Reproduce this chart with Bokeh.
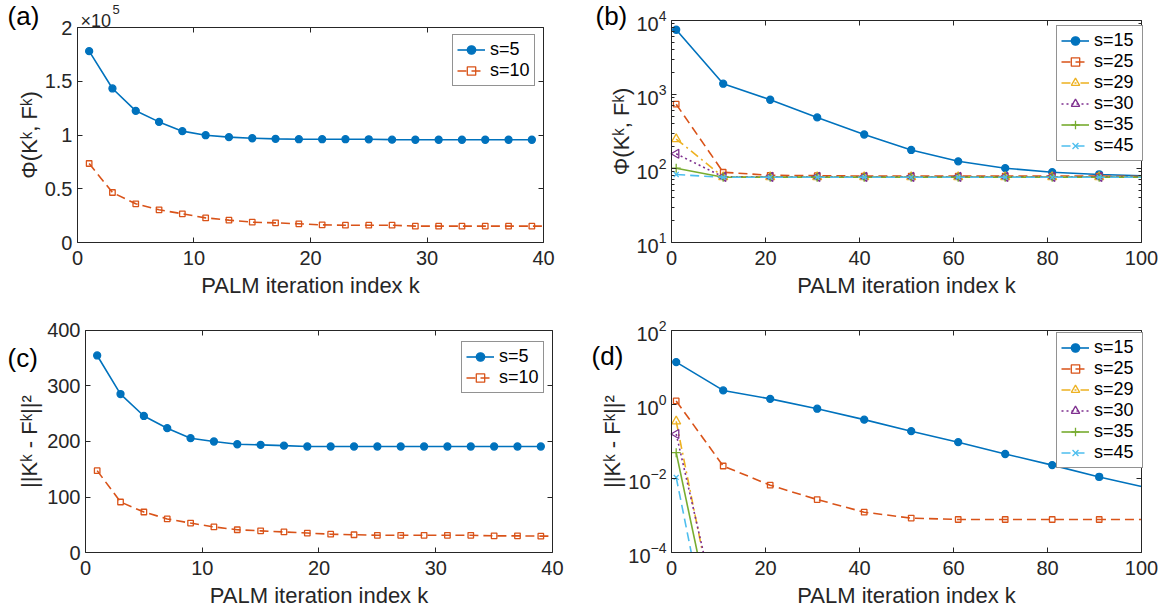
import math
from bokeh.plotting import figure
from bokeh.models import (Range1d, LinearAxis, LogAxis, FixedTicker, Legend,
                          LegendItem, Label, BasicTickFormatter)
from bokeh.layouts import column, row
from bokeh.embed import file_html
from bokeh.resources import INLINE

FONT = "Liberation Sans"
INK = "#262626"

# ---------------- data ----------------
# panels (a) and (c): iterations 1..39 (odd), orange series runs to 40
k_ac = [1, 3, 5, 7, 9, 11, 13, 15, 17, 19, 21, 23, 25, 27, 29, 31, 33, 35, 37, 39]
k_ac_end = [40]

# (a) objective Phi(K^k, F^k), in units of 1e5
phi_s5 = [1.78, 1.433, 1.225, 1.122, 1.036, 0.998, 0.980, 0.970, 0.964, 0.961,
          0.961, 0.961, 0.960, 0.957, 0.956, 0.956, 0.956, 0.956, 0.956, 0.956]
phi_s10 = [0.735, 0.465, 0.360, 0.304, 0.267, 0.229, 0.208, 0.189, 0.183, 0.174,
           0.164, 0.161, 0.161, 0.161, 0.152, 0.152, 0.152, 0.152, 0.152, 0.152]
phi_s10_end = [0.152]

# (c) ||K^k - F^k||^2
dist_s5 = [355, 285.5, 246, 224, 206, 200, 195, 194, 192.5, 191,
           191, 191, 191, 191, 191, 191, 191, 191, 191, 191]
dist_s10 = [147.5, 91, 73, 60.5, 53, 46, 41, 39, 37, 35,
            33, 32, 31, 31, 31, 31, 31, 30, 30, 29.5]
dist_s10_end = [29.5]

# panels (b) and (d): iterations 1, 11, ..., 91 and the final iterate 100
k_bd = [1, 11, 21, 31, 41, 51, 61, 71, 81, 91, 100]

phi_b = {
    "s=15": [7500, 1400, 850, 490, 288, 178, 125, 101, 89, 83, 80],
    "s=25": [740, 89, 81, 80, 79, 79, 79, 79, 79, 79, 78],
    "s=29": [250, 77, 77, 77, 77, 77, 77, 77, 77, 77, 77],
    "s=30": [158, 77, 77, 77, 77, 77, 77, 77, 77, 77, 77],
    "s=35": [101, 76, 76, 76, 76, 76, 76, 76, 76, 76, 76],
    "s=45": [83, 76, 76, 76, 76, 76, 76, 76, 76, 76, 76],
}

k_d_fast = [1, 11]
dist_d = {
    "s=15": [14, 2.4, 1.42, 0.77, 0.39, 0.19, 0.096, 0.046, 0.023, 0.011, 0.0061],
    "s=25": [1.25, 0.0218, 0.0066, 0.0027, 0.00123, 0.00085, 0.00078, 0.00078,
             0.00078, 0.00078, 0.00078],
    "s=29": [0.35, 1.7e-7],
    "s=30": [0.16, 4.7e-7],
    "s=35": [0.05, 5e-8],
    "s=45": [0.0107, 5e-9],
}

X_LABEL = "PALM iteration index k"
PHI_LABEL = "Φ(Kᵏ, Fᵏ)"
DIST_LABEL = "||Kᵏ - Fᵏ||²"

# ---------------- styles ----------------
STYLE = {
    "s=5":  dict(color="#0072BD", dash="solid", marker="circle", size=7, fill=True, angle=0),
    "s=10": dict(color="#D95319", dash="9 5", marker="square", size=5.5, fill=False, angle=0),
    "s=15": dict(color="#0072BD", dash="solid", marker="circle", size=7, fill=True, angle=0),
    "s=25": dict(color="#D95319", dash="9 5", marker="square", size=5.5, fill=False, angle=0),
    "s=29": dict(color="#EDB120", dash="9 4 2 4", marker="triangle", size=9, fill=False, angle=0),
    "s=30": dict(color="#7E2F8E", dash="2 3", marker="triangle", size=9, fill=False,
                 angle=math.pi / 2),
    "s=35": dict(color="#77AC30", dash="solid", marker="cross", size=9, fill=False, angle=0),
    "s=45": dict(color="#4DBEEE", dash="9 5", marker="x", size=7, fill=False, angle=0),
}


def style_axis(ax, show_labels, horizontal):
    ax.axis_line_color = INK
    ax.axis_line_width = 1
    ax.major_tick_in = 5
    ax.major_tick_out = 0
    ax.minor_tick_in = 3
    ax.minor_tick_out = 0
    ax.major_tick_line_color = INK
    ax.minor_tick_line_color = INK
    ax.major_label_text_font = FONT
    ax.major_label_text_font_size = "20px"
    ax.major_label_text_color = INK
    ax.major_label_standoff = 8 if horizontal else 5
    if not show_labels:
        # mirror axis: ticks only
        ax.major_label_text_font_size = "1px"
        ax.major_label_text_color = None
        ax.major_label_standoff = 0


def make_panel(width, height, x_range, y_range, box, log_y,
               xticks, yticks, yminor, yoverrides=None):
    """The data frame fills the whole canvas; the four box axes are pinned to
    the data limits so that tags and titles can sit in the margins."""
    x0, x1, y0, y1 = box
    p = figure(width=width, height=height, output_backend="svg", toolbar_location=None,
               x_range=Range1d(*x_range), y_range=Range1d(*y_range),
               y_axis_type="log" if log_y else "linear",
               x_axis_location=None, y_axis_location=None,
               min_border_left=0, min_border_right=0,
               min_border_top=0, min_border_bottom=0)
    p.outline_line_color = None
    p.background_fill_color = "white"
    p.border_fill_color = "white"
    p.grid.visible = False
    AxY = LogAxis if log_y else LinearAxis
    xt = FixedTicker(ticks=xticks, minor_ticks=[])
    yt = FixedTicker(ticks=yticks, minor_ticks=yminor)
    ax_b = LinearAxis(ticker=xt, bounds=(x0, x1), fixed_location=y0)
    ax_t = LinearAxis(ticker=xt, bounds=(x0, x1), fixed_location=y1)
    ax_l = AxY(ticker=yt, bounds=(y0, y1), fixed_location=x0)
    ax_r = AxY(ticker=yt, formatter=BasicTickFormatter(), bounds=(y0, y1),
               fixed_location=x1)
    style_axis(ax_b, True, True)
    style_axis(ax_t, False, True)
    style_axis(ax_l, True, False)
    style_axis(ax_r, False, False)
    if yoverrides:
        ax_l.major_label_overrides = yoverrides
    p.add_layout(ax_b, "below")
    p.add_layout(ax_t, "above")
    p.add_layout(ax_l, "left")
    p.add_layout(ax_r, "right")
    return p


def add_series(p, name, xs_line, ys_line, xs_mark, ys_mark):
    st = STYLE[name]
    ln = p.line(xs_line, ys_line, line_color=st["color"], line_width=1.6,
                line_dash=st["dash"])
    sc = p.scatter(xs_mark, ys_mark, marker=st["marker"], size=st["size"],
                   line_color=st["color"], line_width=1.3,
                   fill_color=st["color"] if st["fill"] else None,
                   angle=st["angle"])
    return LegendItem(label=name, renderers=[ln, sc])


def add_legend(p, items, location, label_width):
    lg = Legend(items=items, location=location, margin=0)
    lg.border_line_color = INK
    lg.border_line_width = 1
    lg.background_fill_color = "white"
    lg.background_fill_alpha = 1.0
    lg.label_text_font = FONT
    lg.label_text_font_size = "18px"
    lg.label_text_color = "black"
    lg.glyph_width = 28
    lg.glyph_height = 21
    lg.label_height = 21
    lg.label_width = label_width
    lg.label_standoff = 5
    lg.spacing = 0
    lg.padding = 4
    p.add_layout(lg)


def add_text(p, text, x, y, size, baseline="top", align="left", color="black", angle=0):
    p.add_layout(Label(x=x, y=y, text=text, text_font=FONT, text_font_size=size,
                       text_color=color, text_baseline=baseline, text_align=align,
                       angle=angle))


def axis_titles(p, xc, xy, ylx, yly, ylabel):
    add_text(p, X_LABEL, xc, xy, "22px", baseline="middle", align="center", color=INK)
    add_text(p, ylabel, ylx, yly, "22px", baseline="middle", align="center", color=INK,
             angle=math.pi / 2)


# ---------------- (a) ----------------
pa = make_panel(590, 300, (-6.609, 44.034), (-0.5395, 2.2512), (0, 40, 0, 2), False,
                [0, 10, 20, 30, 40], [0, 0.5, 1, 1.5, 2], [],
                yoverrides={0: "0", 0.5: "0.5", 1: "1", 1.5: "1.5", 2: "2"})
items_a = [
    add_series(pa, "s=5", k_ac, phi_s5, k_ac, phi_s5),
    add_series(pa, "s=10", k_ac + k_ac_end, phi_s10 + phi_s10_end, k_ac, phi_s10),
]
add_legend(pa, items_a, (452, 214), 40)
axis_titles(pa, 20, -0.40, -4.16, 1.0, PHI_LABEL)
add_text(pa, "(a)", -6.0, 2.245, "26px")
add_text(pa, "×10", 0.26, 2.065, "18px", baseline="alphabetic", color=INK)
add_text(pa, "5", 3.0, 2.167, "13px", baseline="alphabetic", color=INK)

# ---------------- (b) ----------------
minor_b = [m * 10 ** e for e in (1, 2, 3) for m in range(2, 10)]
pb = make_panel(575, 300, (-17.234, 105.106), (1.6452, 18637), (0, 100, 10, 1e4), True,
                [0, 20, 40, 60, 80, 100], [10, 100, 1000, 10000], minor_b)
items_b = []
for name, ys in phi_b.items():
    items_b.append(add_series(pb, name, k_bd, ys, k_bd[:-1], ys[:-1]))
add_legend(pb, items_b, (466, 139), 44)
axis_titles(pb, 50, 2.624, -10.64, 316.2, PHI_LABEL)
add_text(pb, "(b)", -16.17, 18400, "26px")

# ---------------- (c) ----------------
pc = make_panel(590, 315, (-7.2805, 43.255), (-113.51, 454.05), (0, 40, 0, 400), False,
                [0, 10, 20, 30, 40], [0, 100, 200, 300, 400], [])
items_c = [
    add_series(pc, "s=5", k_ac, dist_s5, k_ac, dist_s5),
    add_series(pc, "s=10", k_ac + k_ac_end, dist_s10 + dist_s10_end, k_ac, dist_s10),
]
add_legend(pc, items_c, (461, 222), 40)
axis_titles(pc, 20, -77.5, -4.80, 200, DIST_LABEL)
add_text(pc, "(c)", -6.68, 376.6, "26px")

# ---------------- (d) ----------------
pd_ = make_panel(575, 315, (-17.234, 105.106), (1.983e-6, 647.0), (0, 100, 1e-4, 1e2), True,
                 [0, 20, 40, 60, 80, 100], [1e-4, 1e-2, 1, 100], [])
items_d = []
for name, ys in dist_d.items():
    if len(ys) == len(k_bd):
        items_d.append(add_series(pd_, name, k_bd, ys, k_bd[:-1], ys[:-1]))
    else:
        items_d.append(add_series(pd_, name, k_d_fast, ys, k_d_fast, ys))
# white band below the axes box hides the part of the steep curves under 1e-4
pd_.quad(left=-17.234, right=105.106, bottom=1.983e-6, top=1e-4,
         fill_color="white", line_color=None)
add_legend(pd_, items_d, (466, 147), 44)
axis_titles(pd_, 50, 6.88e-6, -12.55, 0.1, DIST_LABEL)
add_text(pd_, "(d)", -17.0, 50.5, "26px")

layout = column(row(pa, pb), row(pc, pd_))

with open("out.html", "w") as f:
    f.write(file_html(layout, INLINE))
